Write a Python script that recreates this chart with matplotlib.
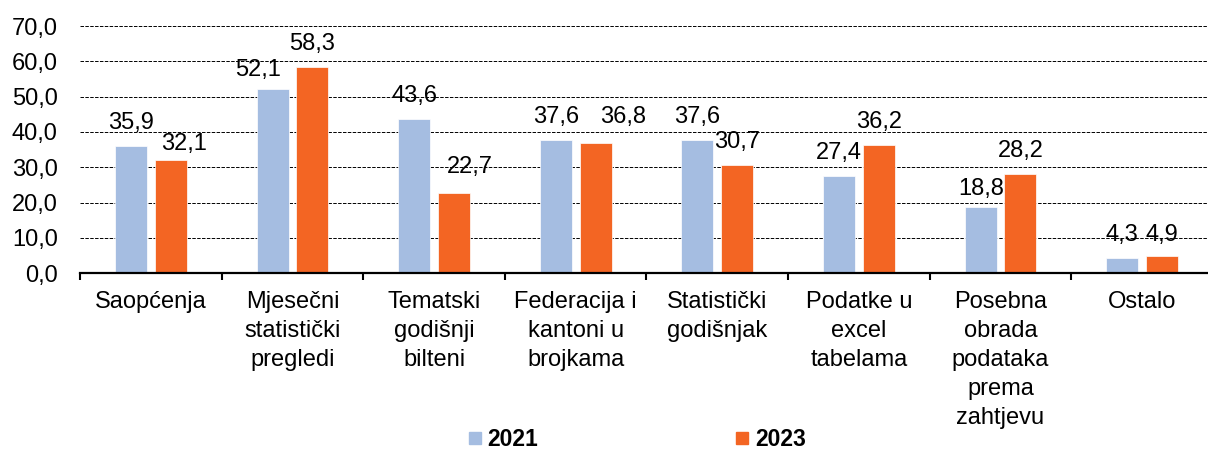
import matplotlib
matplotlib.use("Agg")
import matplotlib.pyplot as plt
from matplotlib.lines import Line2D
import numpy as np

categories = [
    "Saopćenja",
    "Mjesečni\nstatistički\npregledi",
    "Tematski\ngodišnji\nbilteni",
    "Federacija i\nkantoni u\nbrojkama",
    "Statistički\ngodišnjak",
    "Podatke u\nexcel\ntabelama",
    "Posebna\nobrada\npodataka\nprema\nzahtjevu",
    "Ostalo",
]
series_names = ["2021", "2023"]
values_2021 = [35.9, 52.1, 43.6, 37.6, 37.6, 27.4, 18.8, 4.3]
values_2023 = [32.1, 58.3, 22.7, 36.8, 30.7, 36.2, 28.2, 4.9]
y_ticks = [0, 10, 20, 30, 40, 50, 60, 70]

# label nudges (pixels: dx, dy) relative to default placement above each bar
nudge_2021 = [(0, 0), (-15, -4), (0, 0), (0, 0), (0, 0), (0, 0), (0, -5), (0, 0)]
nudge_2023 = [(13, -7), (0, 0), (16, 3), (28, 3), (0, 0), (0, 0), (0, 0), (0, -2)]

colors = ["#A5BDE1", "#F36523"]

plt.rcParams["font.family"] = ["Liberation Sans", "DejaVu Sans"]
plt.rcParams["lines.scale_dashes"] = False
FS = 17
LFS = 16.5
PX = 0.72  # points per pixel at dpi 100

fig = plt.figure(figsize=(12.08, 4.53), dpi=100)
ax = fig.add_axes([80 / 1208, 1 - 273.3 / 453, 1133 / 1208, (273.3 - 26) / 453])

x = np.arange(len(categories))
bw = 0.226
off = 0.14
b1 = ax.bar(x - off, values_2021, bw, color=colors[0], edgecolor="white", linewidth=0.5, zorder=3)
b2 = ax.bar(x + off, values_2023, bw, color=colors[1], edgecolor="white", linewidth=0.5, zorder=3)

def fmt(v):
    return f"{v:.1f}".replace(".", ",")

for bars, vals, nudges in [(b1, values_2021, nudge_2021), (b2, values_2023, nudge_2023)]:
    for rect, v, (dx, dy) in zip(bars, vals, nudges):
        ax.annotate(fmt(v), (rect.get_x() + rect.get_width() / 2, v),
                    xytext=(dx * PX, (17 + dy) * PX), textcoords="offset points",
                    ha="center", va="baseline", fontsize=FS, color="black", zorder=4)

ax.set_xlim(-0.5, len(categories) - 0.5)
ax.set_ylim(0, 70)
ax.set_yticks(y_ticks)
ax.set_yticklabels([fmt(t) for t in y_ticks], fontsize=FS)
ax.set_xticks(x)
ax.set_xticklabels(categories, fontsize=FS, linespacing=1.4)
ax.set_xticks(np.arange(-0.5, len(categories), 1.0), minor=True)
ax.tick_params(axis="x", which="major", length=0, pad=13)
ax.tick_params(axis="x", which="minor", length=7 * PX, width=1.5, direction="out")
ax.tick_params(axis="y", length=0, pad=16)

for s in ["top", "right", "left"]:
    ax.spines[s].set_visible(False)
ax.spines["bottom"].set_linewidth(1.6)
ax.spines["bottom"].set_zorder(5)

ax.yaxis.grid(True, color="black", linewidth=0.7, linestyle=(0, (2.5, 1.0)), zorder=0)
ax.set_axisbelow(True)

handles = [Line2D([], [], marker="s", linestyle="none", markersize=12 * PX,
                  markerfacecolor=c, markeredgecolor=c) for c in colors]
fig.legend(handles, series_names, loc="center", bbox_to_anchor=(637 / 1208, 1 - 440 / 453),
           ncol=2, frameon=False, prop={"weight": "bold", "size": LFS},
           handlelength=0.6, handletextpad=0.25, columnspacing=8.6, borderpad=0)

fig.savefig("out.png", dpi=100)
